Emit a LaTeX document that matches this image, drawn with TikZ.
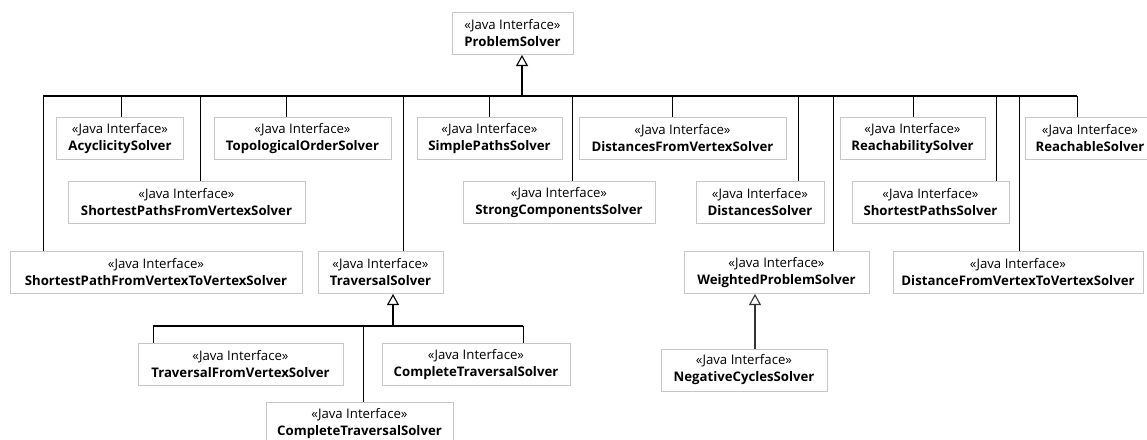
\documentclass[tikz,border=0pt]{standalone}
\usepackage{fontspec}
\setmainfont{Open Sans}
\usepackage{tikz}
\usetikzlibrary{arrows.meta,positioning,calc}
\newcommand{\jiface}[1]{«Java Interface»\\\textbf{#1}}

\begin{document}
\begin{tikzpicture}[x=1pt, y=-1pt,
  iface/.style={rectangle, draw=black!22, line width=1pt, minimum height=42pt, inner sep=2pt, align=center, font=\fontsize{13.2}{17}\selectfont},
  bus/.style={line width=1.8pt},
  link/.style={line width=0.9pt},
  gen/.style={-{Triangle[open, length=11pt, width=12pt, line width=1.1pt]}, line width=2pt},
  every node/.style={inner sep=2pt}
]
\clip (0,0) rectangle (1147,439);

% Top: root interface
\node[iface, minimum width=121pt] (ps) at (512.5,33.5) {\jiface{ProblemSolver}};

% Row 1
\node[iface, minimum width=127pt] (acyc) at (120,138.5) {\jiface{AcyclicitySolver}};
\node[iface, minimum width=177pt] (topo) at (302.5,138.5) {\jiface{TopologicalOrderSolver}};
\node[iface, minimum width=145pt] (simple) at (489.5,138.5) {\jiface{SimplePathsSolver}};
\node[iface, minimum width=207pt] (distfrom) at (682.5,138.5) {\jiface{DistancesFromVertexSolver}};
\node[iface, minimum width=145pt] (reach) at (912.5,138.5) {\jiface{ReachabilitySolver}};
\node[iface, minimum width=130pt] (reachable) at (1090,138.5) {\jiface{ReachableSolver}};

% Row 2
\node[iface, minimum width=237pt] (spfv) at (186.5,202.5) {\jiface{ShortestPathsFromVertexSolver}};
\node[iface, minimum width=192pt] (strong) at (559,202.5) {\jiface{StrongComponentsSolver}};
\node[iface, minimum width=128pt] (dists) at (760,202.5) {\jiface{DistancesSolver}};
\node[iface, minimum width=157pt] (sps) at (930.5,202.5) {\jiface{ShortestPathsSolver}};

% Row 3
\node[iface, minimum width=292pt] (spvv) at (156,272.5) {\jiface{ShortestPathFromVertexToVertexSolver}};
\node[iface, minimum width=125pt] (trav) at (380.5,272.5) {\jiface{TraversalSolver}};
\node[iface, minimum width=185pt] (weighted) at (776.5,272.5) {\jiface{WeightedProblemSolver}};
\node[iface, minimum width=250pt] (dfvv) at (1018,272.5) {\jiface{DistanceFromVertexToVertexSolver}};

% Traversal children
\node[iface, minimum width=205pt] (travfrom) at (240.5,364.5) {\jiface{TraversalFromVertexSolver}};
\node[iface, minimum width=188pt] (complete1) at (476,364.5) {\jiface{CompleteTraversalSolver}};
\node[iface, minimum width=187pt] (complete2) at (359.5,423.5) {\jiface{CompleteTraversalSolver}};

% Weighted child
\node[iface, minimum width=166pt] (neg) at (744,370) {\jiface{NegativeCyclesSolver}};

% Main bus
\coordinate (hub) at (522,96);
\draw[bus] (43,96) coordinate (busL) -- (1077,96) coordinate (busR);
\draw[gen] (hub) -- (hub |- ps.south);
\foreach \x/\n in {43/spvv,121/acyc,200/spfv,286/topo,403/trav,489/simple,572/strong,672/distfrom,798/dists,833/weighted,913/reach,996/sps,1019/dfvv,1077/reachable}{
  \coordinate (d) at (\x,96);
  \draw[link] (d) -- (d |- \n.north);
}

% Traversal bus
\coordinate (thub) at (393,326);
\draw[bus] (153,326) -- (523,326);
\draw[gen] (thub) -- (thub |- trav.south);
\foreach \x/\n in {153/travfrom,363/complete2,523/complete1}{
  \coordinate (d) at (\x,326);
  \draw[link] (d) -- (d |- \n.north);
}

% Weighted
\coordinate (whub) at (755,300);
\draw[gen, line width=1.4pt, black!80] (whub |- neg.north) -- (whub |- weighted.south);

\end{tikzpicture}
\end{document}
